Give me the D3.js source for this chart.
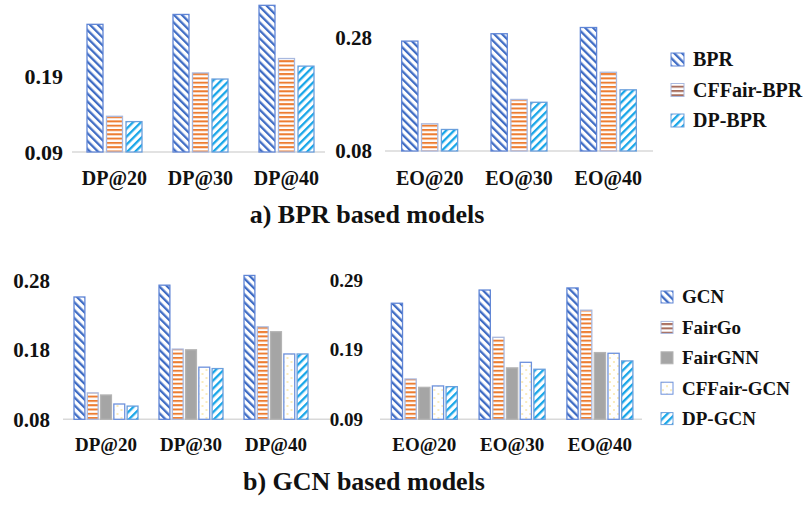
<!DOCTYPE html>
<html>
<head>
<meta charset="utf-8">
<script src="https://cdn.jsdelivr.net/npm/d3@7"></script>
<style>
  html, body { margin: 0; padding: 0; background: #fff; }
  svg { display: block; font-family: "Liberation Serif", "Times New Roman", Times, "DejaVu Serif", serif; font-weight: bold; }
</style>
</head>
<body>
<svg id="chart" width="804" height="506"></svg>
<script>
// x axis groups
const dpGroups = ['DP@20', 'DP@30', 'DP@40'];
const eoGroups = ['EO@20', 'EO@30', 'EO@40'];

// series
const bprSeries = ['BPR', 'CFFair-BPR', 'DP-BPR'];
const gcnSeries = ['GCN', 'FairGo', 'FairGNN', 'CFFair-GCN', 'DP-GCN'];

// a) BPR based models - DP
const bprDP = [0.258, 0.271, 0.283];
const cffairBprDP = [0.137, 0.194, 0.213];
const dpBprDP = [0.130, 0.186, 0.203];
// a) BPR based models - EO
const bprEO = [0.274, 0.287, 0.298];
const cffairBprEO = [0.128, 0.171, 0.219];
const dpBprEO = [0.118, 0.166, 0.188];

// b) GCN based models - DP
const gcnDP = [0.256, 0.273, 0.287];
const fairGoDP = [0.118, 0.181, 0.213];
const fairGnnDP = [0.115, 0.180, 0.206];
const cffairGcnDP = [0.102, 0.155, 0.174];
const dpGcnDP = [0.099, 0.153, 0.174];
// b) GCN based models - EO
const gcnEO = [0.257, 0.276, 0.279];
const fairGoEO = [0.148, 0.208, 0.247];
const fairGnnEO = [0.136, 0.164, 0.186];
const cffairGcnEO = [0.138, 0.172, 0.185];
const dpGcnEO = [0.137, 0.162, 0.174];

// y tick labels
const dpBprTicks = [0.09, 0.19];
const eoBprTicks = [0.08, 0.28];
const dpGcnTicks = [0.08, 0.18, 0.28];
const eoGcnTicks = [0.09, 0.19, 0.29];

const FONT = '"Liberation Serif", "Times New Roman", Times, "DejaVu Serif", serif';

const svg = d3.select('#chart');
const defs = svg.append('defs');

function stripes(id, color, angle, size, lineW) {
  const p = defs.append('pattern')
    .attr('id', id)
    .attr('patternUnits', 'userSpaceOnUse')
    .attr('width', size)
    .attr('height', size)
    .attr('patternTransform', `rotate(${angle})`);
  p.append('rect').attr('width', size).attr('height', size).attr('fill', '#fff');
  p.append('rect').attr('width', lineW).attr('height', size).attr('fill', color);
}

stripes('pat-back', '#3f6cc4', -45, 5.6, 2.3);
stripes('pat-fwd', '#17a6e8', 45, 5.6, 2.3);
stripes('pat-horiz', '#ed7d31', 90, 4.3, 2);
stripes('pat-horiz-brown', '#a86e5e', 90, 4.3, 2);

const dots = defs.append('pattern')
  .attr('id', 'pat-dots')
  .attr('patternUnits', 'userSpaceOnUse')
  .attr('width', 8)
  .attr('height', 8);
dots.append('rect').attr('width', 8).attr('height', 8).attr('fill', '#fff');
dots.append('circle').attr('cx', 2).attr('cy', 2).attr('r', 0.8).attr('fill', '#f2d36b');
dots.append('circle').attr('cx', 6).attr('cy', 6).attr('r', 0.8).attr('fill', '#f2d36b');

const styles = {
  'BPR': { fill: 'url(#pat-back)', stroke: '#5f85d6', legend: 'url(#pat-back)' },
  'GCN': { fill: 'url(#pat-back)', stroke: '#5f85d6', legend: 'url(#pat-back)' },
  'CFFair-BPR': { fill: 'url(#pat-horiz)', stroke: '#a9b9df', legend: 'url(#pat-horiz-brown)' },
  'FairGo': { fill: 'url(#pat-horiz)', stroke: '#a9b9df', legend: 'url(#pat-horiz-brown)' },
  'FairGNN': { fill: '#a5a5a5', stroke: '#b4b4b4', legend: '#a5a5a5' },
  'CFFair-GCN': { fill: 'url(#pat-dots)', stroke: '#6d91dc', legend: 'url(#pat-dots)' },
  'DP-BPR': { fill: 'url(#pat-fwd)', stroke: '#6a9fdc', legend: 'url(#pat-fwd)' },
  'DP-GCN': { fill: 'url(#pat-fwd)', stroke: '#6a9fdc', legend: 'url(#pat-fwd)' }
};

function drawPanel(p) {
  const g = svg.append('g');
  const x = d3.scaleBand().domain(p.groups).range(p.xRange);
  const bw = x.bandwidth();
  const xs = d3.scaleBand()
    .domain(p.series)
    .range([(bw - p.groupWidth) / 2, (bw + p.groupWidth) / 2])
    .paddingInner(0.18);
  const y = d3.scaleLinear().domain(p.yDomain).range(p.yRange);

  g.append('line')
    .attr('x1', p.axisLine[0]).attr('x2', p.axisLine[1])
    .attr('y1', y(p.yDomain[0])).attr('y2', y(p.yDomain[0]))
    .attr('stroke', '#d9d9d9')
    .attr('stroke-width', 1.5);

  const rows = p.groups.map((grp, i) => ({
    group: grp,
    values: p.series.map((s, j) => ({ series: s, value: p.values[j][i] }))
  }));

  g.selectAll('g.grp')
    .data(rows)
    .join('g')
    .attr('class', 'grp')
    .attr('transform', d => `translate(${x(d.group)},0)`)
    .selectAll('rect')
    .data(d => d.values)
    .join('rect')
    .attr('x', d => xs(d.series))
    .attr('y', d => y(d.value))
    .attr('width', xs.bandwidth())
    .attr('height', d => y(p.yDomain[0]) - y(d.value))
    .attr('fill', d => styles[d.series].fill)
    .attr('stroke', d => styles[d.series].stroke)
    .attr('stroke-width', 1.3);

  const axis = g.append('g')
    .attr('transform', `translate(${p.tickRight},0)`)
    .call(d3.axisLeft(y).tickValues(p.ticks).tickSize(0).tickPadding(0).tickFormat(d3.format('.2f')));
  axis.select('.domain').remove();
  axis.attr('font-family', FONT);
  axis.selectAll('text')
    .attr('fill', '#111')
    .attr('font-weight', 'bold')
    .attr('font-size', p.tickSize);

  g.selectAll('text.xlab')
    .data(p.groups)
    .join('text')
    .attr('class', 'xlab')
    .attr('x', d => x(d) + bw / 2)
    .attr('y', p.labelY)
    .attr('text-anchor', 'middle')
    .attr('fill', '#111')
    .attr('font-size', p.labelSize)
    .text(d => d);
}

function drawLegend(series, lx, ly, step, box, textX, size) {
  const g = svg.append('g');
  const items = g.selectAll('g')
    .data(series)
    .join('g')
    .attr('transform', (d, i) => `translate(${lx},${ly + i * step})`);
  items.append('rect')
    .attr('x', 0).attr('y', -box / 2)
    .attr('width', box).attr('height', box)
    .attr('fill', d => styles[d].legend)
    .attr('stroke', d => styles[d].stroke)
    .attr('stroke-width', 1);
  items.append('text')
    .attr('x', textX)
    .attr('y', 0)
    .attr('dy', '0.34em')
    .attr('fill', '#111')
    .attr('font-size', size)
    .text(d => d);
}

// a) BPR based models
drawPanel({
  groups: dpGroups, series: bprSeries,
  values: [bprDP, cffairBprDP, dpBprDP],
  xRange: [71.5, 329.5], groupWidth: 55, axisLine: [72, 325],
  yDomain: [0.09, 0.29], yRange: [152, 0],
  ticks: dpBprTicks, tickRight: 63, tickSize: 22,
  labelY: 185, labelSize: 20
});
drawPanel({
  groups: eoGroups, series: bprSeries,
  values: [bprEO, cffairBprEO, dpBprEO],
  xRange: [385, 653], groupWidth: 56, axisLine: [385, 653],
  yDomain: [0.08, 0.28], yRange: [151, 37.7],
  ticks: eoBprTicks, tickRight: 372, tickSize: 21,
  labelY: 185, labelSize: 20
});
drawLegend(bprSeries, 671, 59.5, 30.5, 13, 22, 20);

svg.append('text')
  .attr('x', 367).attr('y', 223)
  .attr('text-anchor', 'middle')
  .attr('fill', '#111')
  .attr('font-size', 26)
  .text('a) BPR based models');

// b) GCN based models
drawPanel({
  groups: dpGroups, series: gcnSeries,
  values: [gcnDP, fairGoDP, fairGnnDP, cffairGcnDP, dpGcnDP],
  xRange: [63.5, 318.5], groupWidth: 64, axisLine: [63, 330],
  yDomain: [0.08, 0.28], yRange: [419.3, 280.3],
  ticks: dpGcnTicks, tickRight: 50, tickSize: 21,
  labelY: 451, labelSize: 19
});
drawPanel({
  groups: eoGroups, series: gcnSeries,
  values: [gcnEO, fairGoEO, fairGnnEO, cffairGcnEO, dpGcnEO],
  xRange: [380.4, 643.8], groupWidth: 66, axisLine: [380, 642],
  yDomain: [0.09, 0.29], yRange: [419.3, 280.3],
  ticks: eoGcnTicks, tickRight: 363, tickSize: 19,
  labelY: 451, labelSize: 19
});
drawLegend(gcnSeries, 661, 297, 30.4, 12, 21, 19);

svg.append('text')
  .attr('x', 364).attr('y', 490)
  .attr('text-anchor', 'middle')
  .attr('fill', '#111')
  .attr('font-size', 26)
  .text('b) GCN based models');
</script>
</body>
</html>
